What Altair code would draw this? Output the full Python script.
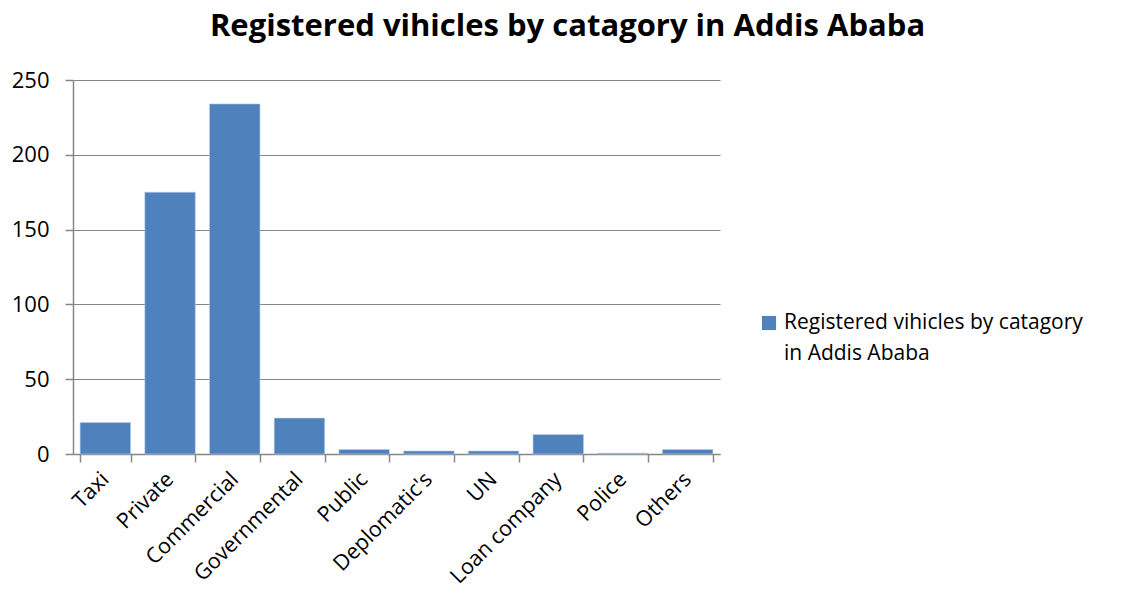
import altair as alt
import pandas as pd

categories = ["Taxi", "Private", "Commercial", "Governmental", "Public",
              "Deplomatic's", "UN", "Loan company", "Police", "Others"]
values = [21, 175, 234, 24, 3, 2, 2, 13, 0.5, 3]
series_name = "Registered vihicles by catagory in Addis Ababa"
legend_lines = ["Registered vihicles by catagory", "in Addis Ababa"]
y_ticks = [0, 50, 100, 150, 200, 250]

df = pd.DataFrame({"category": categories, "value": values, "series": series_name})
legend_df = pd.DataFrame({"series": [series_name]})

FONT = "Open Sans"
GRAY = "#868686"

bars = alt.Chart(df).mark_bar(color="#4F81BD", stroke="#B9CDE5", strokeWidth=0.6).encode(
    x=alt.X("category:N", sort=categories, title=None,
            scale=alt.Scale(paddingInner=0.22, paddingOuter=0.11),
            axis=alt.Axis(labelAngle=-45, labelFontSize=21.5, labelColor="#000000",
                          labelFont=FONT, labelPadding=14, tickBand="extent",
                          tickSize=8, tickColor=GRAY, domainColor=GRAY,
                          domainWidth=1.5, tickWidth=1.5, labelAlign="right",
                          labelBaseline="middle", labelOverlap=False)),
    y=alt.Y("value:Q", title=None,
            scale=alt.Scale(domain=[0, 250], nice=False),
            axis=alt.Axis(values=y_ticks, labelFontSize=22, labelColor="#000000",
                          labelFont=FONT, tickSize=8, tickColor=GRAY,
                          domainColor=GRAY, domainWidth=1.5, tickWidth=1.5,
                          gridColor=GRAY, gridWidth=1.2, labelPadding=16)),
)

legend_sym = alt.Chart(legend_df).mark_square(size=200, color="#4F81BD", opacity=1).encode(
    x=alt.value(696), y=alt.value(243)
)
legend_txt = alt.Chart(legend_df).transform_calculate(
    lbl="['" + legend_lines[0] + "', '" + legend_lines[1] + "']"
).mark_text(align="left", baseline="middle", fontSize=21, font=FONT,
            color="#000000", lineHeight=31).encode(
    x=alt.value(711), y=alt.value(243), text="lbl:N"
)

chart = alt.layer(bars, legend_sym, legend_txt).properties(
    width=647,
    height=374,
    title=alt.TitleParams("Registered vihicles by catagory in Addis Ababa",
                          fontSize=31, font=FONT, fontWeight="bold", color="#000000",
                          anchor="middle", dx=171, offset=26),
    padding={"left": 65, "top": 72, "right": 390, "bottom": 139},
    autosize=alt.AutoSizeParams(type="none"),
).configure_view(stroke=None).configure_axis(grid=False).configure_axisY(grid=True)

chart.save("out.html", embed_options={"renderer": "svg", "actions": False})
